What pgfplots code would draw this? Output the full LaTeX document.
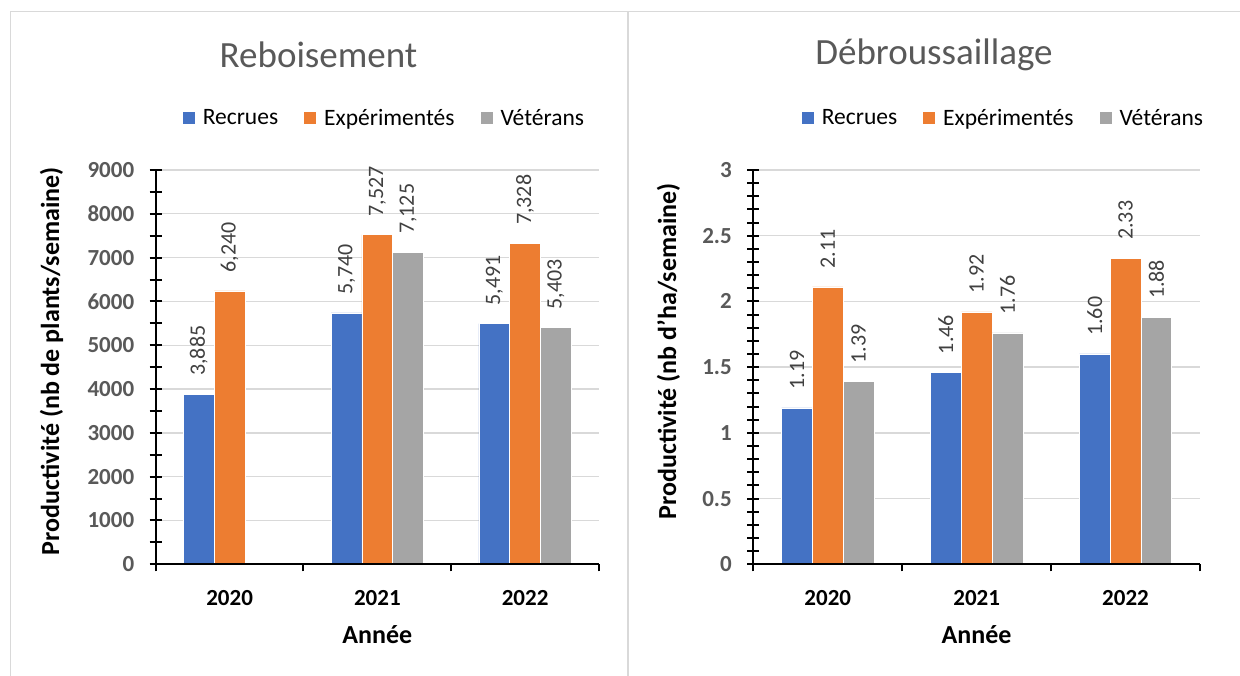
\documentclass[border=0pt]{standalone}
\usepackage{fontspec}
\setmainfont{Carlito}
\usepackage{pgfplots}
\pgfplotsset{compat=1.18}

\definecolor{recrues}{HTML}{4472C4}
\definecolor{experim}{HTML}{ED7D31}
\definecolor{veterans}{HTML}{A5A5A5}
\definecolor{gridgray}{HTML}{D9D9D9}
\definecolor{framegray}{HTML}{D9D9D9}
\definecolor{tickgray}{HTML}{595959}
\definecolor{labelgray}{HTML}{404040}

\pgfplotsset{
  sqlegend/.style={legend image code/.code={\fill[##1,draw=none] (0pt,-6pt) rectangle (12pt,6pt);}},
  panel/.style={
    scale only axis, height=394.3pt,
    ybar=0pt, bar width=30.8pt,
    xmin=-0.5, xmax=2.5, ymin=0,
    xtick={0,1,2}, xticklabels={2020,2021,2022},
    axis x line*=bottom, axis y line*=left,
    axis line style={-, black, line width=2pt},
    tick align=center, major tick length=12pt, minor tick length=12pt,
    tick style={black, line width=2pt},
    xtick style={draw=none},
    ymajorgrids, grid style={gridgray, line width=1.3pt},
    scaled y ticks=false,
    /pgf/number format/assume math mode=true,
    yticklabel style={font=\fontsize{23}{23}\selectfont\bfseries, text=tickgray, xshift=-12pt,
      /pgf/number format/1000 sep={}},
    xticklabel style={font=\fontsize{23}{23}\selectfont\bfseries, text=black, yshift=-17pt},
    xlabel={Année},
    xlabel style={font=\fontsize{26}{26}\selectfont\bfseries, at={(axis description cs:0.5,-0.179)}, anchor=center},
    ylabel style={font=\fontsize{26}{26}\selectfont\bfseries, anchor=center},
    legend columns=3,
    legend style={draw=none, fill=none, anchor=center, font=\fontsize{23.5}{23.5}\selectfont,
      /tikz/every odd column/.append style={column sep=6pt},
      /tikz/every even column/.append style={column sep=24pt}},
    legend cell align=left,
    nodes near coords style={rotate=90, anchor=west, inner ysep=0pt, inner xsep=18pt,
      font=\fontsize{22}{22}\selectfont, text=labelgray},
  },
  xticks/.style={
    scale only axis, height=394.3pt,
    xmin=-0.5, xmax=2.5, ymin=0, ymax=1,
    axis x line*=bottom, axis y line=none,
    axis line style={-, black, line width=2pt},
    xtick={-0.5,0.5,1.5,2.5}, xticklabels={}, ytick=\empty,
    tick align=outside, major tick length=7pt,
    tick style={black, line width=2pt},
  },
}

\begin{document}
\begin{tikzpicture}
\path[use as bounding box] (0,0) rectangle (1240pt,676pt);
\draw[framegray, line width=1.5pt] (10.5pt,0) -- (10.5pt,664.5pt) -- (1240pt,664.5pt);
\draw[framegray, line width=2pt] (628pt,0) -- (628pt,664.5pt);

\node[text=tickgray, font=\fontsize{37}{37}\selectfont] at (318.5pt,621pt) {Reboisement};
\node[text=tickgray, font=\fontsize{37}{37}\selectfont] at (934pt,621pt) {Débroussaillage};

% --- Reboisement ---
\begin{axis}[panel, at={(155.7pt,111.7pt)}, anchor=south west, width=443.3pt,
  ymax=9000, ytick={0,1000,...,9000}, minor y tick num=1,
  ylabel={Productivité (nb de plants/semaine)},
  ylabel style={at={(axis description cs:-0.235,0.515)}},
  legend style={at={(0.516,1.132)}},
  nodes near coords={\pgfmathprintnumber[fixed,precision=0,1000 sep={,},assume math mode=true]{\pgfplotspointmeta}},
]
\addplot[fill=recrues, draw=white, line width=0.6pt, sqlegend] coordinates {(0,3885) (1,5740) (2,5491)};
\addplot[fill=experim, draw=white, line width=0.6pt, sqlegend] coordinates {(0,6240) (1,7527) (2,7328)};
\addplot[fill=veterans, draw=white, line width=0.6pt, sqlegend] coordinates {(1,7125) (2,5403)};
\legend{Recrues, Expérimentés, Vétérans}
\end{axis}
\begin{axis}[xticks, at={(155.7pt,111.7pt)}, anchor=south west, width=443.3pt]
\end{axis}

% --- Débroussaillage ---
\begin{axis}[panel, at={(753.3pt,111.7pt)}, anchor=south west, width=446.7pt,
  ymax=3, ytick={0,0.5,...,3}, minor y tick num=4,
  ylabel={Productivité (nb d'ha/semaine)},
  ylabel style={at={(axis description cs:-0.19,0.54)}},
  legend style={at={(0.56,1.132)}},
  nodes near coords={\pgfmathprintnumber[fixed,fixed zerofill,precision=2,assume math mode=true]{\pgfplotspointmeta}},
]
\addplot[fill=recrues, draw=white, line width=0.6pt, sqlegend] coordinates {(0,1.19) (1,1.46) (2,1.60)};
\addplot[fill=experim, draw=white, line width=0.6pt, sqlegend] coordinates {(0,2.11) (1,1.92) (2,2.33)};
\addplot[fill=veterans, draw=white, line width=0.6pt, sqlegend] coordinates {(0,1.39) (1,1.76) (2,1.88)};
\legend{Recrues, Expérimentés, Vétérans}
\end{axis}
\begin{axis}[xticks, at={(753.3pt,111.7pt)}, anchor=south west, width=446.7pt]
\end{axis}
\end{tikzpicture}
\end{document}
